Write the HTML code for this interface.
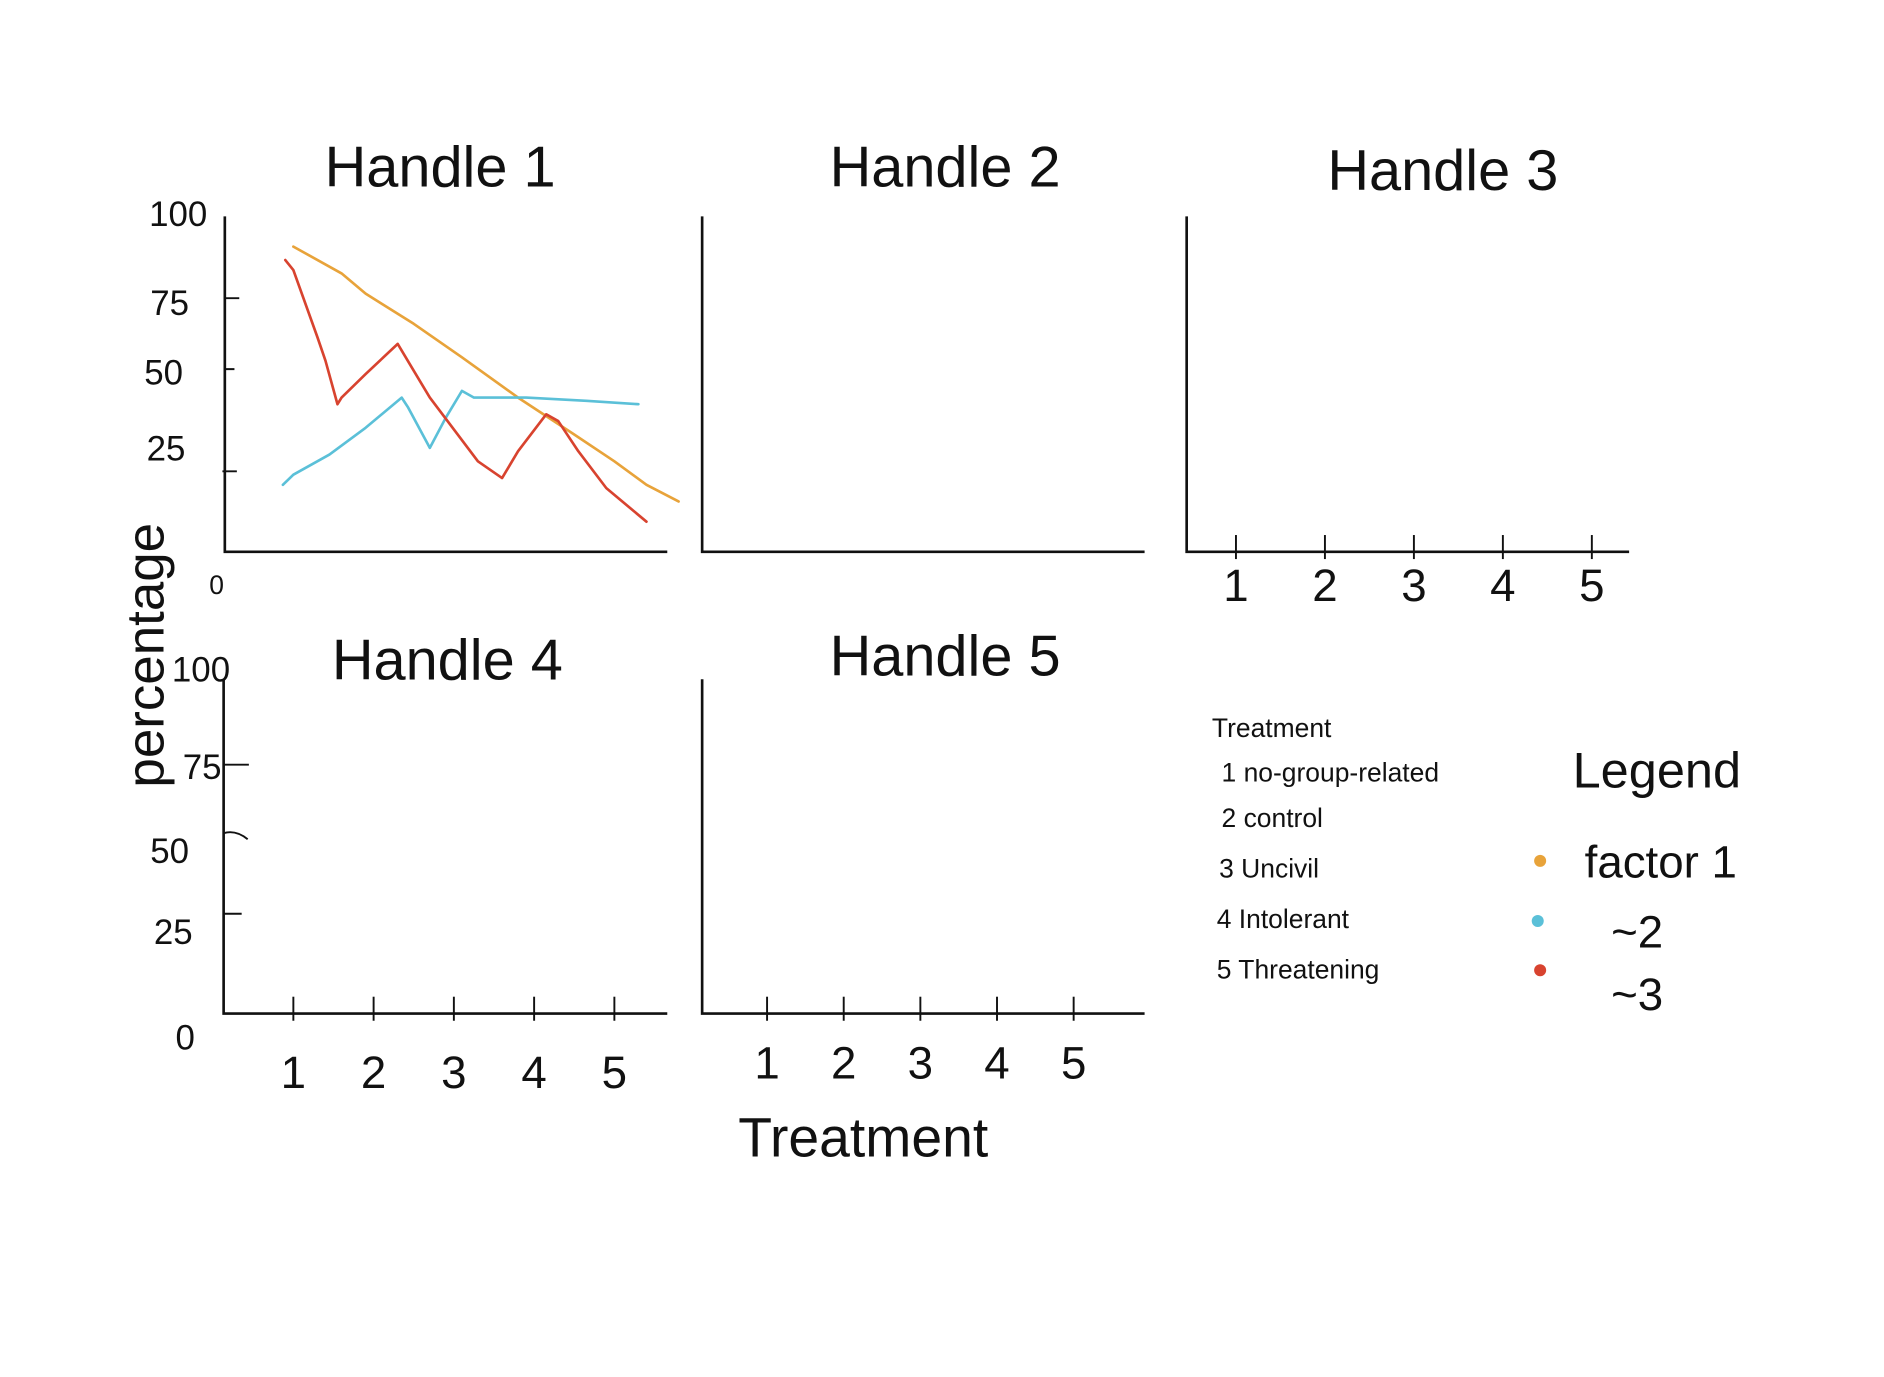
<!DOCTYPE html>
<html><head><meta charset="utf-8"><style>
html,body{margin:0;padding:0;background:#fff;}
svg{display:block;}
text{font-family:"Liberation Sans",sans-serif;fill:#111;}
</style></head><body>
<svg id="chart" width="1884" height="1377" viewBox="0 0 1567 1145.3" xmlns="http://www.w3.org/2000/svg">
<rect x="0" y="0" width="1567" height="1145.3" fill="#fff"/>
<g id="axes" stroke="#111" stroke-width="2.2" fill="none">
  <path d="M187 180 V459 H555"/>
  <path d="M584 180 V459 H952"/>
  <path d="M987 180 V459 H1355"/>
  <path d="M186 565 V843 H555"/>
  <path d="M584 565 V843 H952"/>
  <path stroke-width="1.6" d="M187 248 h12 M187 307 h8 M185 392 h12"/>
  <path stroke-width="1.6" d="M186 636 h21 M186 693 q10 -3 20 5 M186 760 h15"/>
</g>
<g font-size="48">
  <text x="270" y="155">Handle 1</text>
  <text x="690" y="155">Handle 2</text>
  <text x="1104" y="158">Handle 3</text>
  <text x="276" y="565">Handle 4</text>
  <text x="690" y="562">Handle 5</text>
</g>
<g font-size="29">
  <text x="124" y="188">100</text>
  <text x="125" y="262">75</text>
  <text x="120" y="320">50</text>
  <text x="122" y="383">25</text>
  <text x="174" y="494" font-size="22">0</text>
  <text x="143" y="567">100</text>
  <text x="152" y="648">75</text>
  <text x="125" y="718">50</text>
  <text x="128" y="785">25</text>
  <text x="146" y="873">0</text>
</g>
<text transform="translate(136,545) rotate(-90)" text-anchor="middle" font-size="44">percentage</text>
<text x="718" y="962" text-anchor="middle" font-size="46">Treatment</text>
<g id="xticks" stroke="#111" stroke-width="1.6"></g>
<g id="xlabels" font-size="38" text-anchor="middle"></g>
<g id="series" fill="none" stroke-width="2.2" stroke-linejoin="round" stroke-linecap="round"></g>
<g font-size="22">
  <text x="1008" y="613">Treatment</text>
  <text x="1016" y="650">1   no-group-related</text>
  <text x="1016" y="688">2   control</text>
  <text x="1014" y="730">3  Uncivil</text>
  <text x="1012" y="772">4  Intolerant</text>
  <text x="1012" y="814">5  Threatening</text>
</g>
<text x="1308" y="655" font-size="42">Legend</text>
<circle cx="1281" cy="716" r="5" fill="#e8a33a"/>
<circle cx="1279" cy="766" r="5" fill="#5bc0d8"/>
<circle cx="1281" cy="807" r="5" fill="#d8432f"/>
<text x="1318" y="730" font-size="38">factor 1</text>
<text x="1340" y="788" font-size="38">~2</text>
<text x="1340" y="840" font-size="38">~3</text>
</svg>
<script>
const treatments = [1, 2, 3, 4, 5];
const tickLabels = ["1", "2", "3", "4", "5"];
const factor1X = [1.0, 1.6, 1.9, 2.5, 3.1, 3.8, 4.5, 5.0, 5.4, 5.8];
const factor1Y = [91, 83, 77, 68, 58, 46, 35, 27, 20, 15];
const factor2X = [0.87, 1.0, 1.45, 1.9, 2.35, 2.43, 2.7, 2.9, 3.1, 3.25, 3.9, 4.65, 5.3];
const factor2Y = [20, 23, 29, 37, 46, 43, 31, 40, 48, 46, 46, 45, 44];
const factor3X = [0.9, 1.0, 1.3, 1.4, 1.55, 1.6, 1.9, 2.3, 2.35, 2.7, 3.3, 3.6, 3.8, 4.15, 4.3, 4.55, 4.9, 5.4];
const factor3Y = [87, 84, 64, 57, 44, 46, 53, 62, 60, 46, 27, 22, 30, 41, 39, 30, 19, 9];

const NS = "http://www.w3.org/2000/svg";
function xScale(t) { return 244 + (t - 1) * 66.75; }
function yScale(v) { return 459 - v * 2.79; }

const seriesG = document.getElementById("series");
function drawLine(xs, ys, color, name) {
  const p = document.createElementNS(NS, "path");
  let d = "";
  for (let i = 0; i < xs.length; i++) d += (i ? "L" : "M") + xScale(xs[i]).toFixed(1) + " " + yScale(ys[i]).toFixed(1);
  p.setAttribute("d", d);
  p.setAttribute("stroke", color);
  
  
  seriesG.appendChild(p);
}
drawLine(factor1X, factor1Y, "#e8a33a", "factor-1-line");
drawLine(factor2X, factor2Y, "#5bc0d8", "factor-2-line");
drawLine(factor3X, factor3Y, "#d8432f", "factor-3-line");

const panels = [
  {name: "panel3", base: 459, x0: 1028, step: 74, ly: 500},
  {name: "panel4", base: 843, x0: 244, step: 66.75, ly: 905},
  {name: "panel5", base: 843, x0: 638, step: 63.75, ly: 897}
];
const tickG = document.getElementById("xticks");
const labG = document.getElementById("xlabels");
panels.forEach(pn => {
  treatments.forEach((t, i) => {
    const x = pn.x0 + (t - 1) * pn.step;
    const l = document.createElementNS(NS, "line");
    l.setAttribute("x1", x); l.setAttribute("x2", x);
    l.setAttribute("y1", pn.base - 14); l.setAttribute("y2", pn.base + 6);
    
    
    tickG.appendChild(l);
    const tx = document.createElementNS(NS, "text");
    tx.setAttribute("x", x); tx.setAttribute("y", pn.ly);
    tx.textContent = tickLabels[i];
    
    
    labG.appendChild(tx);
  });
});
</script>
</body></html>
